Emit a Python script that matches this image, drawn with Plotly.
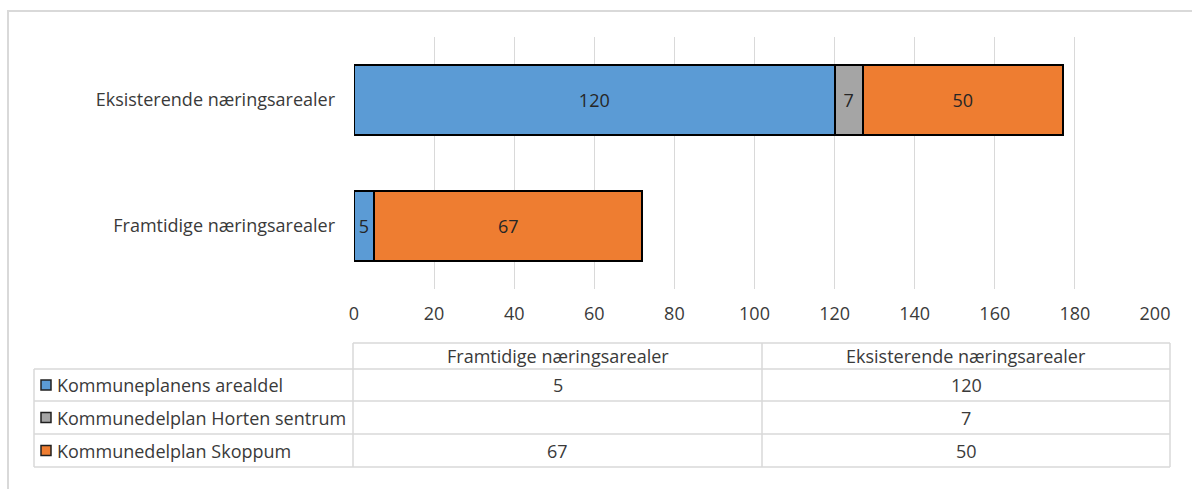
import plotly.graph_objects as go

categories = ["Framtidige næringsarealer", "Eksisterende næringsarealer"]
series_names = ["Kommuneplanens arealdel", "Kommunedelplan Horten sentrum", "Kommunedelplan Skoppum"]
kommuneplan = [5, 120]
horten = [None, 7]
skoppum = [67, 50]
series_values = [kommuneplan, horten, skoppum]
colors = ["#5b9bd5", "#a5a5a5", "#ee7d31"]
x_ticks = [0, 20, 40, 60, 80, 100, 120, 140, 160, 180, 200]

W, H = 1192, 489
L, R, T, B = 354, 37, 37, 200
PW, PH = W - L - R, H - T - B

def px(x):
    return (x - L) / PW

def py(y):
    return (H - B - y) / PH

FONT = "Open Sans"
TXT = "#3a3a3a"

fig = go.Figure()
for name, vals, col in zip(series_names, series_values, colors):
    fig.add_trace(go.Bar(
        y=categories, x=vals, name=name, orientation="h",
        marker=dict(color=col, line=dict(color="#000000", width=2)),
        texttemplate="%{x}", textposition="inside", insidetextanchor="middle",
        textangle=0, constraintext="none",
        textfont=dict(family=FONT, size=18, color="#262626"),
        showlegend=False, hoverinfo="skip",
    ))

shapes = []
annotations = []
# outer frame
shapes.append(dict(type="rect", xref="paper", yref="paper",
                   x0=px(8), x1=px(1205), y0=py(11), y1=py(500),
                   line=dict(color="#d9d9d9", width=2)))

# table geometry
col_x = [34, 353, 762, 1170]
row_y = [343, 369, 401, 434, 467]
gc = "#d9d9d9"
def line(x0, y0, x1, y1):
    shapes.append(dict(type="line", xref="paper", yref="paper",
                       x0=px(x0), x1=px(x1), y0=py(y0), y1=py(y1),
                       line=dict(color=gc, width=1.5)))
line(col_x[1], row_y[0], col_x[3], row_y[0])
for yy in row_y[1:]:
    line(col_x[0], yy, col_x[3], yy)
line(col_x[0], row_y[1], col_x[0], row_y[-1])
for xx in col_x[1:]:
    line(xx, row_y[0], xx, row_y[-1])

# header
for i, cat in enumerate(categories):
    annotations.append(dict(xref="paper", yref="paper",
                            x=px((col_x[i + 1] + col_x[i + 2]) / 2),
                            y=py((row_y[0] + row_y[1]) / 2),
                            text=cat, showarrow=False, xanchor="center", yanchor="middle",
                            font=dict(family=FONT, size=18, color=TXT)))
# rows
for r, (name, vals, col) in enumerate(zip(series_names, series_values, colors)):
    yc = (row_y[r + 1] + row_y[r + 2]) / 2
    shapes.append(dict(type="rect", xref="paper", yref="paper",
                       x0=px(41), x1=px(51), y0=py(yc - 5), y1=py(yc + 5),
                       fillcolor=col, line=dict(color="#202020", width=1.5)))
    annotations.append(dict(xref="paper", yref="paper", x=px(55), y=py(yc),
                            text=name, showarrow=False, xanchor="left", yanchor="middle",
                            font=dict(family=FONT, size=18, color=TXT)))
    for i, v in enumerate(vals):
        if v is None:
            continue
        annotations.append(dict(xref="paper", yref="paper",
                                x=px((col_x[i + 1] + col_x[i + 2]) / 2), y=py(yc),
                                text=str(v), showarrow=False, xanchor="center", yanchor="middle",
                                font=dict(family=FONT, size=18, color=TXT)))

fig.update_layout(
    width=W, height=H,
    margin=dict(l=L, r=R, t=T, b=B, pad=0),
    paper_bgcolor="white", plot_bgcolor="white",
    barmode="stack", bargap=0.45,
    font=dict(family=FONT, size=18, color=TXT),
    xaxis=dict(range=[0, 200], tickvals=x_ticks, showgrid=True, gridcolor="#d9d9d9",
               gridwidth=1.3, zeroline=False, showline=False, ticks="",
               tickfont=dict(family=FONT, size=18, color=TXT), ticklabelstandoff=12),
    yaxis=dict(categoryorder="array", categoryarray=categories, showgrid=False,
               zeroline=False, showline=False, ticks="",
               tickfont=dict(family=FONT, size=18, color=TXT), ticklabelstandoff=18),
    shapes=shapes, annotations=annotations,
)

fig.write_html("out.html")
